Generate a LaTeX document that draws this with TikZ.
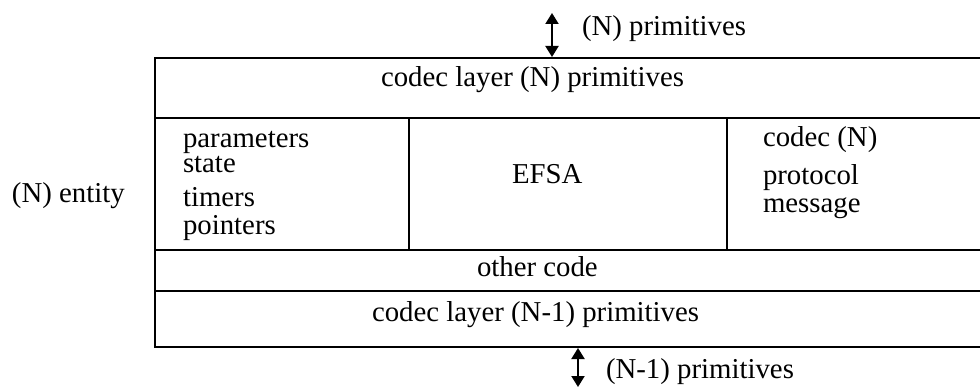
\documentclass[tikz,border=0pt]{standalone}
\usepackage{fontspec}
\setmainfont{Liberation Serif}
\usetikzlibrary{arrows.meta}
\tikzset{
  lbl/.style={anchor=base west, inner sep=0pt, outer sep=0pt,
    font=\fontsize{28.8}{30}\selectfont},
  rule/.style={line width=2pt, line cap=rect},
  flow/.style={line width=2pt, {Triangle[width=13pt,length=11pt]}-{Triangle[width=13pt,length=11pt]}}
}
\begin{document}
\begin{tikzpicture}[x=1pt,y=-1pt]
  \useasboundingbox (0,0) rectangle (980,387);

  % entity frame: open to the right
  \draw[rule] (980,58) -- (155,58) -- (155,347) -- (980,347);
  \draw[rule] (155,118) -- (980,118);
  \draw[rule] (155,250) -- (980,250);
  \draw[rule] (155,291) -- (980,291);
  \draw[rule] (409,118) -- (409,250);
  \draw[rule] (727,118) -- (727,250);

  % service interfaces above and below
  \coordinate (upA) at (552,13);
  \coordinate (upB) at (552,57);
  \coordinate (dnA) at (578,348);
  \coordinate (dnB) at (578,387);
  \draw[flow] (upA) -- (upB);
  \draw[flow] (dnA) -- (dnB);
  \node[lbl] (nprim) at (582,36) {(N) primitives};
  \node[lbl] (n1prim) at (606,378) {(N-1) primitives};

  % layers
  \node[lbl] (codecN) at (381,87) {codec layer (N) primitives};
  \node[lbl] (other) at (477,277) {other code};
  \node[lbl] (codecN1) at (372,322) {codec layer (N-1) primitives};

  % middle row
  \node[lbl] (params) at (183,148) {parameters};
  \node[lbl] (state) at (183,173) {state};
  \node[lbl] (timers) at (183,207) {timers};
  \node[lbl] (pointers) at (183,235) {pointers};
  \node[lbl] (efsa) at (512,184) {EFSA};
  \node[lbl] (msg1) at (763,147) {codec (N)};
  \node[lbl] (msg2) at (763,185) {protocol};
  \node[lbl] (msg3) at (763,213) {message};

  \node[lbl] (entity) at (12,203) {(N) entity};
\end{tikzpicture}
\end{document}
